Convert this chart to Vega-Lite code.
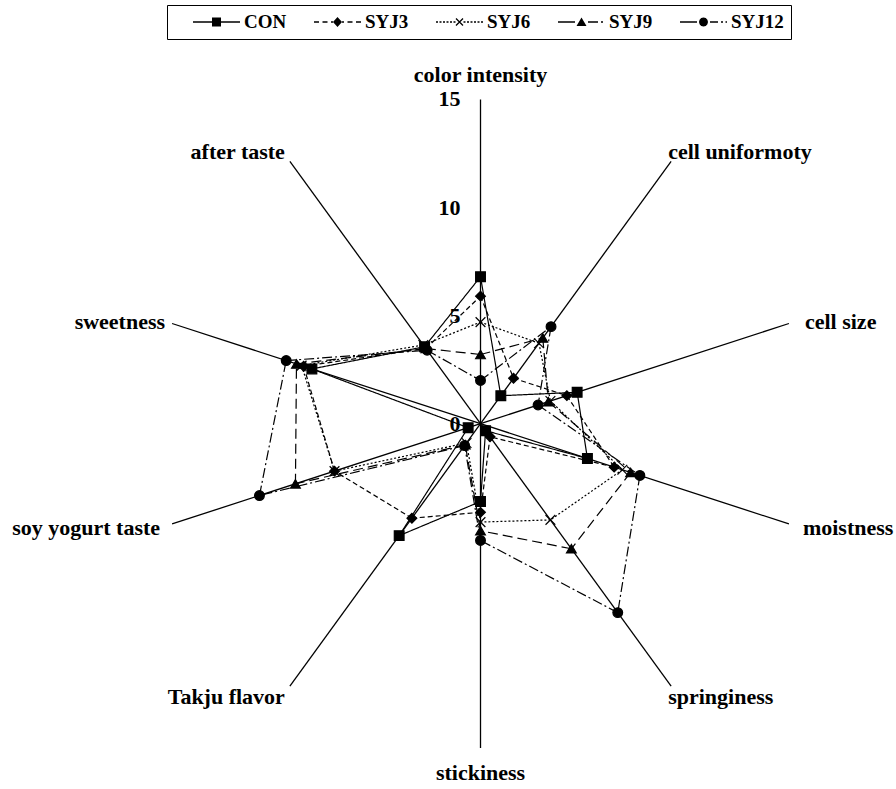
{
  "$schema": "https://vega.github.io/schema/vega-lite/v6.json",
  "width": 896,
  "height": 789,
  "autosize": {"type": "none"},
  "padding": 0,
  "background": "white",
  "config": {"view": {"stroke": null}},
  "resolve": {"scale": {"shape": "independent"}},
  "datasets": {
    "scores": [
      {"series": "CON", "attr": "color intensity", "value": 6.8},
      {"series": "CON", "attr": "cell uniformoty", "value": 1.6},
      {"series": "CON", "attr": "cell size", "value": 4.7},
      {"series": "CON", "attr": "moistness", "value": 5.2},
      {"series": "CON", "attr": "springiness", "value": 0.4},
      {"series": "CON", "attr": "stickiness", "value": 3.6},
      {"series": "CON", "attr": "Takju flavor", "value": 6.4},
      {"series": "CON", "attr": "soy yogurt taste", "value": 0.6},
      {"series": "CON", "attr": "sweetness", "value": 8.2},
      {"series": "CON", "attr": "after taste", "value": 4.4},
      {"series": "SYJ3", "attr": "color intensity", "value": 5.9},
      {"series": "SYJ3", "attr": "cell uniformoty", "value": 2.6},
      {"series": "SYJ3", "attr": "cell size", "value": 4.2},
      {"series": "SYJ3", "attr": "moistness", "value": 6.5},
      {"series": "SYJ3", "attr": "springiness", "value": 0.75},
      {"series": "SYJ3", "attr": "stickiness", "value": 4.1},
      {"series": "SYJ3", "attr": "Takju flavor", "value": 5.4},
      {"series": "SYJ3", "attr": "soy yogurt taste", "value": 7.1},
      {"series": "SYJ3", "attr": "sweetness", "value": 8.6},
      {"series": "SYJ3", "attr": "after taste", "value": 4.3},
      {"series": "SYJ6", "attr": "color intensity", "value": 4.7},
      {"series": "SYJ6", "attr": "cell uniformoty", "value": 4.6},
      {"series": "SYJ6", "attr": "cell size", "value": 3.4},
      {"series": "SYJ6", "attr": "moistness", "value": 6.9},
      {"series": "SYJ6", "attr": "springiness", "value": 5.5},
      {"series": "SYJ6", "attr": "stickiness", "value": 4.55},
      {"series": "SYJ6", "attr": "Takju flavor", "value": 1.1},
      {"series": "SYJ6", "attr": "soy yogurt taste", "value": 7.1},
      {"series": "SYJ6", "attr": "sweetness", "value": 8.7},
      {"series": "SYJ6", "attr": "after taste", "value": 4.5},
      {"series": "SYJ9", "attr": "color intensity", "value": 3.2},
      {"series": "SYJ9", "attr": "cell uniformoty", "value": 4.9},
      {"series": "SYJ9", "attr": "cell size", "value": 3.3},
      {"series": "SYJ9", "attr": "moistness", "value": 7.3},
      {"series": "SYJ9", "attr": "springiness", "value": 7.15},
      {"series": "SYJ9", "attr": "stickiness", "value": 4.95},
      {"series": "SYJ9", "attr": "Takju flavor", "value": 1.2},
      {"series": "SYJ9", "attr": "soy yogurt taste", "value": 9.0},
      {"series": "SYJ9", "attr": "sweetness", "value": 8.95},
      {"series": "SYJ9", "attr": "after taste", "value": 4.3},
      {"series": "SYJ12", "attr": "color intensity", "value": 2.0},
      {"series": "SYJ12", "attr": "cell uniformoty", "value": 5.55},
      {"series": "SYJ12", "attr": "cell size", "value": 2.8},
      {"series": "SYJ12", "attr": "moistness", "value": 7.75},
      {"series": "SYJ12", "attr": "springiness", "value": 10.8},
      {"series": "SYJ12", "attr": "stickiness", "value": 5.4},
      {"series": "SYJ12", "attr": "Takju flavor", "value": 1.25},
      {"series": "SYJ12", "attr": "soy yogurt taste", "value": 10.75},
      {"series": "SYJ12", "attr": "sweetness", "value": 9.45},
      {"series": "SYJ12", "attr": "after taste", "value": 4.2}
    ],
    "axes": [
      {"attr": "color intensity"},
      {"attr": "cell uniformoty"},
      {"attr": "cell size"},
      {"attr": "moistness"},
      {"attr": "springiness"},
      {"attr": "stickiness"},
      {"attr": "Takju flavor"},
      {"attr": "soy yogurt taste"},
      {"attr": "sweetness"},
      {"attr": "after taste"}
    ],
    "ticks": [
      {"label": "0", "v": 0},
      {"label": "5", "v": 5},
      {"label": "10", "v": 10},
      {"label": "15", "v": 15}
    ]
  },
  "layer": [
    {
      "data": {"name": "axes"},
      "transform": [
        {"calculate": "indexof(['color intensity','cell uniformoty','cell size','moistness','springiness','stickiness','Takju flavor','soy yogurt taste','sweetness','after taste'], datum.attr)", "as": "idx"},
        {"calculate": "PI/2 - datum.idx*PI/5", "as": "ang"},
        {"calculate": "15*cos(datum.ang)", "as": "ex"},
        {"calculate": "15*sin(datum.ang)", "as": "ey"},
        {"calculate": "0", "as": "o"}
      ],
      "mark": {"type": "rule", "color": "black", "strokeWidth": 1.3},
      "encoding": {
        "x": {"field": "o", "type": "quantitative", "scale": {"domain": [-22.225, 19.218], "nice": false, "zero": false}, "axis": null},
        "y": {"field": "o", "type": "quantitative", "scale": {"domain": [-16.896, 19.598], "nice": false, "zero": false}, "axis": null},
        "x2": {"field": "ex"},
        "y2": {"field": "ey"}
      }
    },
    {
      "data": {"name": "scores"},
      "transform": [
        {"calculate": "indexof(['color intensity','cell uniformoty','cell size','moistness','springiness','stickiness','Takju flavor','soy yogurt taste','sweetness','after taste'], datum.attr)", "as": "idx"},
        {"calculate": "PI/2 - datum.idx*PI/5", "as": "ang"},
        {"calculate": "datum.value*cos(datum.ang)", "as": "px"},
        {"calculate": "datum.value*sin(datum.ang)", "as": "py"},
        {
          "window": [
            {"op": "lead", "field": "px", "as": "nx"},
            {"op": "lead", "field": "py", "as": "ny"},
            {"op": "first_value", "field": "px", "as": "fx"},
            {"op": "first_value", "field": "py", "as": "fy"}
          ],
          "groupby": ["series"],
          "sort": [{"field": "idx", "order": "ascending"}],
          "frame": [null, null]
        },
        {"calculate": "datum.nx == null ? datum.fx : datum.nx", "as": "qx"},
        {"calculate": "datum.ny == null ? datum.fy : datum.ny", "as": "qy"}
      ],
      "mark": {"type": "rule", "color": "black", "strokeWidth": 1.2},
      "encoding": {
        "x": {"field": "px", "type": "quantitative", "scale": {"domain": [-22.225, 19.218], "nice": false, "zero": false}, "axis": null},
        "y": {"field": "py", "type": "quantitative", "scale": {"domain": [-16.896, 19.598], "nice": false, "zero": false}, "axis": null},
        "x2": {"field": "qx"},
        "y2": {"field": "qy"},
        "strokeDash": {
          "field": "series",
          "type": "nominal",
          "scale": {"domain": ["SYJ12", "SYJ9", "SYJ6", "SYJ3", "CON"], "range": [[10, 3, 2, 3], [10, 5], [2, 2], [5, 3], [1, 0]]},
          "legend": null
        }
      }
    },
    {
      "data": {"name": "scores"},
      "transform": [
        {"calculate": "indexof(['color intensity','cell uniformoty','cell size','moistness','springiness','stickiness','Takju flavor','soy yogurt taste','sweetness','after taste'], datum.attr)", "as": "idx"},
        {"calculate": "PI/2 - datum.idx*PI/5", "as": "ang"},
        {"calculate": "datum.value*cos(datum.ang)", "as": "px"},
        {"calculate": "datum.value*sin(datum.ang)", "as": "py"}
      ],
      "mark": {"type": "point", "filled": true, "fill": "black", "stroke": "black", "strokeWidth": 1.2, "size": 95, "opacity": 1},
      "encoding": {
        "x": {"field": "px", "type": "quantitative", "scale": {"domain": [-22.225, 19.218], "nice": false, "zero": false}, "axis": null},
        "y": {"field": "py", "type": "quantitative", "scale": {"domain": [-16.896, 19.598], "nice": false, "zero": false}, "axis": null},
        "shape": {
          "field": "series",
          "type": "nominal",
          "scale": {"domain": ["CON", "SYJ3", "SYJ6", "SYJ9", "SYJ12"], "range": ["square", "diamond", "M-1,-1L1,1M-1,1L1,-1", "triangle-up", "circle"]},
          "legend": null
        }
      }
    },
    {
      "data": {"name": "scores"},
      "transform": [{"filter": "false"}],
      "mark": {"type": "point", "filled": true, "color": "black", "size": 400, "opacity": 1},
      "encoding": {
        "x": {"field": "value", "type": "quantitative", "scale": {"domain": [-22.225, 19.218], "nice": false, "zero": false}, "axis": null},
        "y": {"field": "value", "type": "quantitative", "scale": {"domain": [-16.896, 19.598], "nice": false, "zero": false}, "axis": null},
        "shape": {
          "field": "series",
          "type": "nominal",
          "scale": {
            "domain": ["CON", "SYJ3", "SYJ6", "SYJ9", "SYJ12"],
            "range": [
              "M0.9,-0.065H5.6V0.065H0.9ZM2.8,-0.45H3.7V0.45H2.8Z",
              "M0.9,-0.065H1.4V0.065H0.9ZM1.75,-0.065H2.25V0.065H1.75ZM2.6,-0.065H2.8V0.065H2.6ZM3.7,-0.065H3.9V0.065H3.7ZM4.25,-0.065H4.75V0.065H4.25ZM5.1,-0.065H5.6V0.065H5.1ZM3.25,-0.5L3.7,0L3.25,0.5L2.8,0Z",
              "M0.9,-0.065H1.1V0.065H0.9ZM1.25,-0.065H1.45V0.065H1.25ZM1.6,-0.065H1.8V0.065H1.6ZM1.95,-0.065H2.15V0.065H1.95ZM2.3,-0.065H2.5V0.065H2.3ZM2.65,-0.065H2.85V0.065H2.65ZM3.65,-0.065H3.85V0.065H3.65ZM4,-0.065H4.2V0.065H4ZM4.35,-0.065H4.55V0.065H4.35ZM4.7,-0.065H4.9V0.065H4.7ZM5.05,-0.065H5.25V0.065H5.05ZM5.4,-0.065H5.6V0.065H5.4ZM2.946,-0.396L3.646,0.304L3.554,0.396L2.854,-0.304ZM2.854,0.304L3.554,-0.396L3.646,-0.304L2.946,0.396Z",
              "M0.9,-0.065H2.6V0.065H0.9ZM3.9,-0.065H4.9V0.065H3.9ZM5.2,-0.065H5.4V0.065H5.2ZM3.25,-0.45L3.75,0.4H2.75Z",
              "M0.9,-0.065H2.6V0.065H0.9ZM3.9,-0.065H4.7V0.065H3.9ZM5,-0.065H5.2V0.065H5ZM5.45,-0.065H5.6V0.065H5.45ZM2.8,0L2.86,-0.23L3.02,-0.39L3.25,-0.45L3.48,-0.39L3.64,-0.23L3.7,0L3.64,0.23L3.48,0.39L3.25,0.45L3.02,0.39L2.86,0.23Z"
            ]
          },
          "legend": {
            "title": null,
            "orient": "none",
            "legendX": 167,
            "legendY": 5,
            "direction": "horizontal",
            "strokeColor": "black",
            "padding": 7,
            "symbolSize": 400,
            "labelOffset": 50,
            "columnPadding": 8,
            "labelFont": "Liberation Serif",
            "labelFontWeight": "bold",
            "labelFontSize": 19,
            "labelColor": "black",
            "labelLimit": 200,
            "symbolFillColor": "black",
            "symbolOpacity": 1,
            "symbolStrokeWidth": 0
          }
        }
      }
    },
    {
      "data": {"name": "axes"},
      "transform": [
        {"calculate": "indexof(['color intensity','cell uniformoty','cell size','moistness','springiness','stickiness','Takju flavor','soy yogurt taste','sweetness','after taste'], datum.attr)", "as": "idx"},
        {"calculate": "PI/2 - datum.idx*PI/5", "as": "ang"},
        {"calculate": "15*cos(datum.ang)", "as": "ex"},
        {"calculate": "15*sin(datum.ang)", "as": "ey"}
      ],
      "mark": {
        "type": "text",
        "font": "Liberation Serif",
        "fontWeight": "bold",
        "fontSize": 22,
        "color": "black",
        "baseline": "middle",
        "align": {"expr": "['center','left','left','left','left','center','right','right','right','right'][datum.idx]"},
        "dx": {"expr": "[0,-3,16,14,-3,0,-5,-12,-7,-5][datum.idx]"},
        "dy": {"expr": "[-24,-9,-1.5,4,11,25,11,4,-1.5,-9][datum.idx]"}
      },
      "encoding": {
        "x": {"field": "ex", "type": "quantitative", "scale": {"domain": [-22.225, 19.218], "nice": false, "zero": false}, "axis": null},
        "y": {"field": "ey", "type": "quantitative", "scale": {"domain": [-16.896, 19.598], "nice": false, "zero": false}, "axis": null},
        "text": {"field": "attr"}
      }
    },
    {
      "data": {"name": "ticks"},
      "transform": [{"calculate": "0", "as": "o"}],
      "mark": {"type": "text", "font": "Liberation Serif", "fontWeight": "bold", "fontSize": 22, "color": "black", "align": "right", "baseline": "middle", "dx": -20},
      "encoding": {
        "x": {"field": "o", "type": "quantitative", "scale": {"domain": [-22.225, 19.218], "nice": false, "zero": false}, "axis": null},
        "y": {"field": "v", "type": "quantitative", "scale": {"domain": [-16.896, 19.598], "nice": false, "zero": false}, "axis": null},
        "text": {"field": "label"}
      }
    }
  ]
}
